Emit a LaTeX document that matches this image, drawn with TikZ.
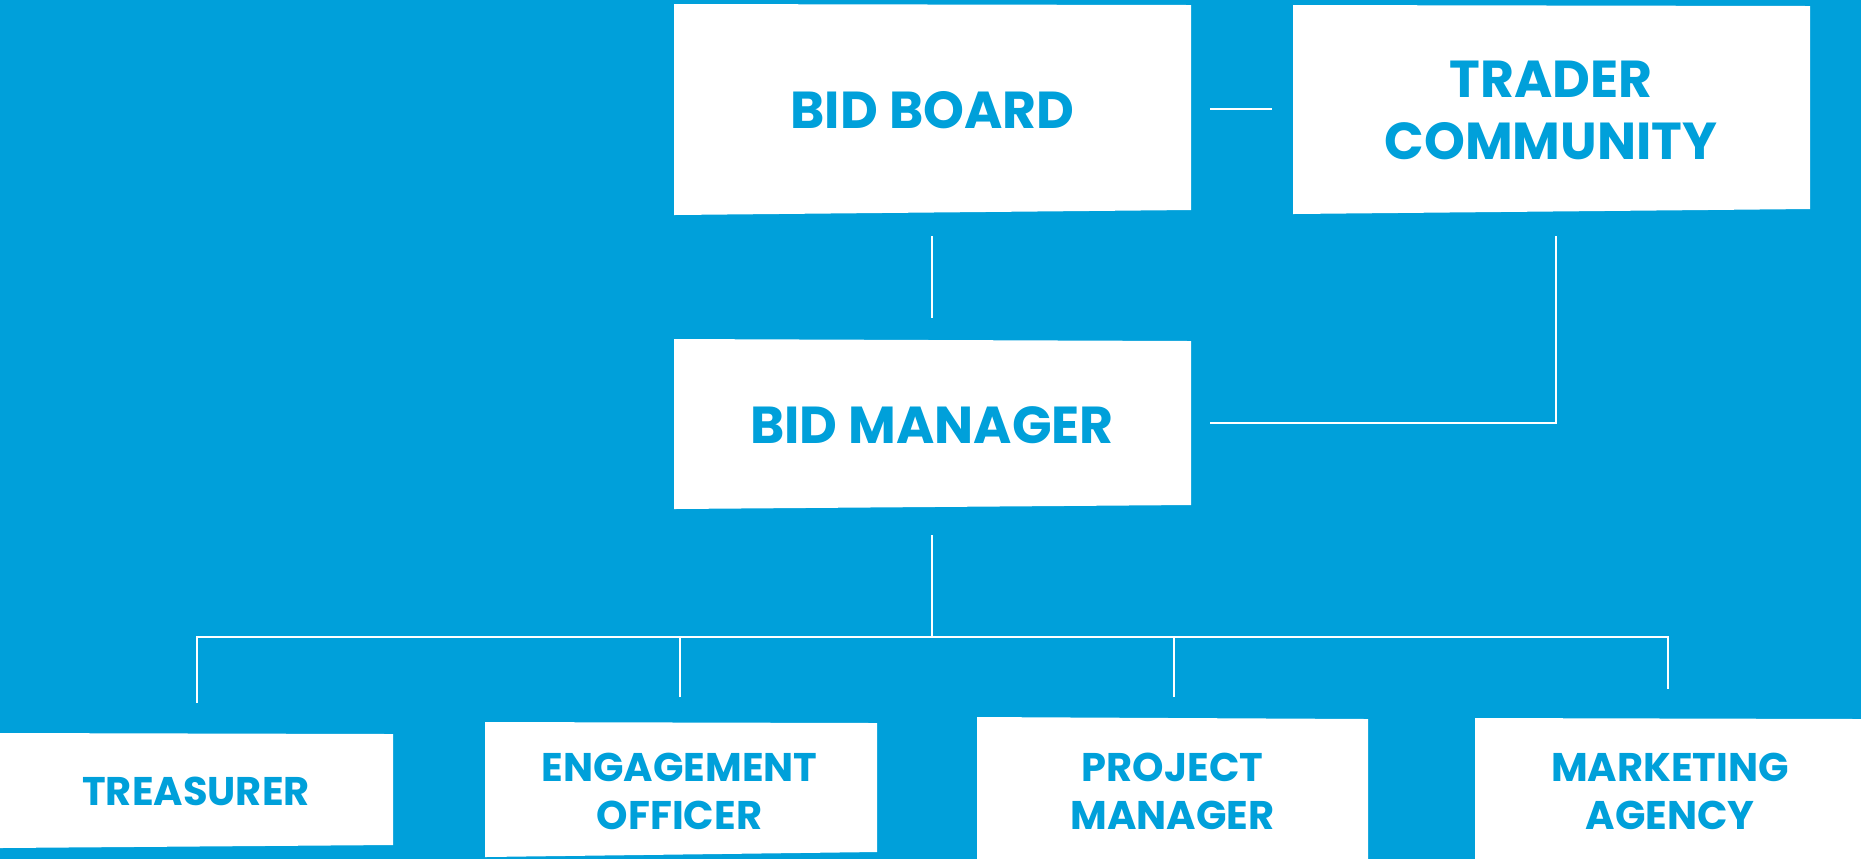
\documentclass[tikz,border=0pt]{standalone}
\usepackage{fontspec}
\setmainfont{Poppins}
\definecolor{bgblue}{RGB}{0,160,218}
\tikzset{
  boxfill/.style={fill=white},
  bigtxt/.style={text=bgblue, inner sep=0pt, align=center, font=\bfseries\fontsize{26}{31}\selectfont},
  smalltxt/.style={text=bgblue, inner sep=0pt, align=center, font=\bfseries\fontsize{20}{24}\selectfont},
  wire/.style={draw=white, line width=1pt}
}
\begin{document}
\begin{tikzpicture}[x=0.5pt,y=-0.5pt]
\useasboundingbox (0,0) rectangle (1861,859);
\fill[bgblue] (0,0) rectangle (1861,859);
% boxes
\fill[boxfill] (674,4) -- (1191,5) -- (1191,210) -- (674,215) -- cycle;
\fill[boxfill] (1293,5) -- (1810,6) -- (1810,209) -- (1293,214) -- cycle;
\fill[boxfill] (674,339) -- (1191,341) -- (1191,505) -- (674,509) -- cycle;
\fill[boxfill] (0,733) -- (393,734) -- (393,845) -- (0,848) -- cycle;
\fill[boxfill] (485,722) -- (877,723) -- (877,852) -- (485,857) -- cycle;
\fill[boxfill] (977,717) -- (1368,719) -- (1368,859) -- (977,859) -- cycle;
\fill[boxfill] (1475,718) -- (1861,719) -- (1861,859) -- (1475,859) -- cycle;
% labels
\node[bigtxt] (board) at (932.5,110) {BID BOARD};
\node[bigtxt] (trader) at (1551,110.5) {TRADER\\COMMUNITY};
\node[bigtxt] (mgr) at (932,425) {BID MANAGER};
\node[smalltxt] (treas) at (196,791) {TREASURER};
\node[smalltxt] (engage) at (679.5,791.5) {ENGAGEMENT\\OFFICER};
\node[smalltxt] (proj) at (1172.5,791) {PROJECT\\MANAGER};
\node[smalltxt] (mkt) at (1670,791) {MARKETING\\AGENCY};
% connector end points
\coordinate (bbR) at (1210,109);
\coordinate (tcL) at (1272,109);
\coordinate (bbB) at (932,236);
\coordinate (bmT) at (932,318);
\coordinate (tcB) at (1556,236);
\coordinate (bmR) at (1210,423);
\coordinate (bmB) at (932,535);
\coordinate (bus) at (932,637);
\coordinate (trT) at (197,703);
\coordinate (enT) at (680,697);
\coordinate (prT) at (1173.5,697);
\coordinate (mkT) at (1668,689);
% connectors
\draw[wire] (bbR) -- (tcL);
\draw[wire] (bbB) -- (bmT);
\draw[wire] (tcB) |- (bmR);
\draw[wire] (bmB) -- (bus);
\draw[wire] (trT) |- (bus -| mkT) -- (mkT);
\draw[wire] (enT) -- (enT |- bus);
\draw[wire] (prT) -- (prT |- bus);
\end{tikzpicture}
\end{document}
